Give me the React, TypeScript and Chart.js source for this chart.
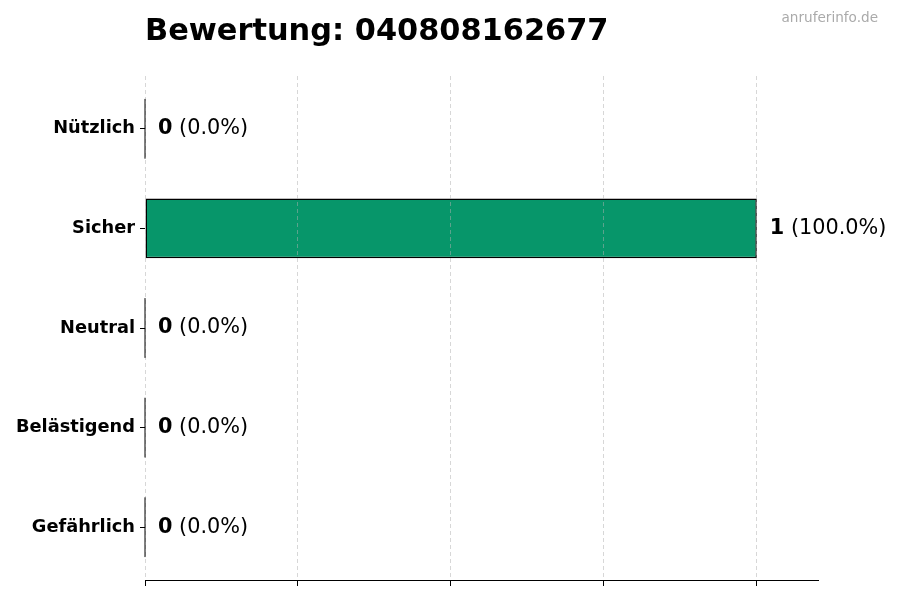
import React, { useRef, useEffect } from 'react';
import { Chart, registerables } from 'chart.js';

Chart.register(...registerables);

// Data
const categories = ['Nützlich', 'Sicher', 'Neutral', 'Belästigend', 'Gefährlich'];
const counts = [0, 1, 0, 0, 0];
const titleText = 'Bewertung: 040808162677';
const watermark = 'anruferinfo.de';

const FONT = "'DejaVu Sans', sans-serif";
const BAR_COLOR = '#07966a';

// title, watermark, zero-width bar edges and value labels
const annotatePlugin = {
  id: 'annotate',
  afterDraw(chart) {
    const { ctx } = chart;
    const xs = chart.scales.x;
    const ys = chart.scales.y;
    const total = counts.reduce((a, b) => a + b, 0);

    ctx.save();
    ctx.fillStyle = '#000';
    ctx.font = `bold 30.4px ${FONT}`;
    ctx.textAlign = 'left';
    ctx.textBaseline = 'alphabetic';
    ctx.fillText(titleText, chart.chartArea.left, 40);

    ctx.fillStyle = '#aaaaaa';
    ctx.font = `13.6px ${FONT}`;
    ctx.textAlign = 'right';
    ctx.fillText(watermark, 878, 22);

    const half = Math.abs(ys.getPixelForValue(1) - ys.getPixelForValue(0)) * 0.3;
    counts.forEach((v, i) => {
      const x = xs.getPixelForValue(v);
      const y = ys.getPixelForValue(i);
      if (v === 0) {
        ctx.strokeStyle = '#000';
        ctx.lineWidth = 1;
        ctx.beginPath();
        ctx.moveTo(x, y - half);
        ctx.lineTo(x, y + half);
        ctx.stroke();
      }
      const pct = total ? (v / total) * 100 : 0;
      const countStr = String(v);
      const pctStr = ` (${pct.toFixed(1)}%)`;
      ctx.textAlign = 'left';
      ctx.textBaseline = 'middle';
      ctx.fillStyle = '#000';
      ctx.font = `bold 20.8px ${FONT}`;
      const lx = x + 13;
      ctx.fillText(countStr, lx, y);
      const w = ctx.measureText(countStr).width;
      ctx.font = `20.8px ${FONT}`;
      ctx.fillText(pctStr, lx + w, y);
    });
    ctx.restore();
  },
};

const RatingChart = () => {
  const canvasRef = useRef(null);
  const chartRef = useRef(null);

  useEffect(() => {
    if (!canvasRef.current) return;
    if (chartRef.current) chartRef.current.destroy();

    chartRef.current = new Chart(canvasRef.current, {
      type: 'bar',
      data: {
        datasets: [
          {
            data: counts.map((v, i) => ({ x: v, y: i })),
            backgroundColor: BAR_COLOR,
            borderColor: '#000',
            borderWidth: 1.5,
            borderSkipped: false,
            barPercentage: 0.6,
            categoryPercentage: 1,
          },
        ],
      },
      options: {
        indexAxis: 'y',
        animation: false,
        responsive: true,
        maintainAspectRatio: false,
        layout: { padding: { top: 76, right: 82, left: 0, bottom: 0 } },
        scales: {
          x: {
            type: 'linear',
            min: 0,
            max: 1.1,
            ticks: {
              stepSize: 0.25,
              includeBounds: false,
              callback: () => '',
              padding: 0,
            },
            grid: {
              z: 1,
              color: 'rgba(176,176,176,0.5)',
              lineWidth: 1,
              tickColor: '#000',
              tickLength: 6,
              tickBorderDash: [],
            },
            border: { display: true, z: 1, color: '#000', width: 1, dash: [4, 3] },
            afterFit: (s) => {
              s.height = 20;
            },
          },
          y: {
            type: 'linear',
            reverse: true,
            offset: false,
            bounds: 'data',
            min: -0.53,
            max: categories.length - 1 + 0.53,
            afterBuildTicks: (s) => {
              s.ticks = categories.map((_, i) => ({ value: i }));
            },
            ticks: {
              color: '#000',
              font: { family: FONT, size: 17.8, weight: 'bold' },
              padding: 5,
              autoSkip: false,
              callback: (v) => categories[v] ?? '',
            },
            grid: {
              offset: false,
              drawOnChartArea: false,
              tickColor: '#000',
              tickLength: 5,
            },
            border: { display: false },
            afterFit: (s) => {
              s.width = 145;
            },
          },
        },
        plugins: {
          legend: { display: false },
          title: { display: false },
          tooltip: { enabled: false },
        },
      },
      plugins: [annotatePlugin],
    });

    return () => {
      if (chartRef.current) {
        chartRef.current.destroy();
        chartRef.current = null;
      }
    };
  }, []);

  return <canvas ref={canvasRef} />;
};

export default function App() {
  return (
    <div style={{ position: 'absolute', left: 0, top: 0, width: 900, height: 600, background: '#fff' }}>
      <RatingChart />
    </div>
  );
}
